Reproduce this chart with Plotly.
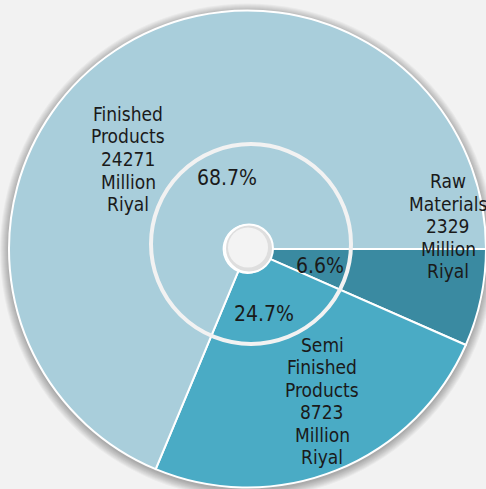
import plotly.graph_objects as go

# ---- data ----
categories = ["Raw Materials", "Semi Finished Products", "Finished Products"]
values = [2329, 8723, 24271]
unit = "Million Riyal"

# ---- style ----
W, H = 486, 489
colors = ["#3a8aa1", "#4aabc5", "#a9cedb"]
BG = "#f2f2f2"
FONT = "DejaVu Sans Condensed, DejaVu Sans, sans-serif"
TXT = "#1a1a1a"
LABEL_SIZE = 19
PCT_SIZE = 21
LINE_STEP = 22.5  # px between label lines

# pie geometry (pixels)
PIE_LEFT, PIE_TOP, PIE_BOTTOM = 9, 10, 488
CX, CY, R = 247.5, 249, 238.5
HOLE_CX, HOLE_CY, HOLE_R = 249, 248.5, 24
RING_CX, RING_CY, RING_R = 251, 244, 100

# label anchor positions (pixels) for category labels and percentages
label_pos = [(448, 226), (322, 401), (128, 159)]
pct_pos = [(319.5, 266), (264, 314), (227, 178)]


def px(x):
    return x / W


def py(y):
    return 1 - y / H


total = sum(values)

fig = go.Figure(
    go.Pie(
        labels=categories,
        values=values,
        sort=False,
        direction="clockwise",
        rotation=90,
        hole=0.1,
        marker=dict(colors=colors, line=dict(color="white", width=2)),
        textinfo="none",
        hoverinfo="label+value+percent",
        showlegend=False,
        domain=dict(x=[px(PIE_LEFT), 1], y=[py(PIE_BOTTOM), py(PIE_TOP)]),
    )
)

shapes = []
# soft drop shadow behind the pie
for i in range(1, 10):
    r = R + i
    shapes.append(dict(
        type="circle", xref="paper", yref="paper", layer="below",
        x0=px(CX - r), x1=px(CX + r), y0=py(CY + 2 + r), y1=py(CY + 2 - r),
        fillcolor="rgba(0,0,0,0.035)", line=dict(width=0),
    ))
# inner ring
shapes.append(dict(
    type="circle", xref="paper", yref="paper", layer="above",
    x0=px(RING_CX - RING_R), x1=px(RING_CX + RING_R),
    y0=py(RING_CY + RING_R), y1=py(RING_CY - RING_R),
    fillcolor="rgba(0,0,0,0)", line=dict(color="#f2f2f2", width=4),
))
# centre hole (with slight shading)
shapes.append(dict(
    type="circle", xref="paper", yref="paper", layer="above",
    x0=px(HOLE_CX - HOLE_R), x1=px(HOLE_CX + HOLE_R),
    y0=py(HOLE_CY + HOLE_R), y1=py(HOLE_CY - HOLE_R),
    fillcolor="#dedede", line=dict(color="white", width=2),
))
hr = HOLE_R - 4
shapes.append(dict(
    type="circle", xref="paper", yref="paper", layer="above",
    x0=px(HOLE_CX - 1 - hr), x1=px(HOLE_CX - 1 + hr),
    y0=py(HOLE_CY - 1 + hr), y1=py(HOLE_CY - 1 - hr),
    fillcolor="#f3f3f3", line=dict(width=0),
))

annotations = []
for cat, val, (lx, ly), (qx, qy) in zip(categories, values, label_pos, pct_pos):
    lines = cat.split(" ") + [str(val)] + unit.split(" ")
    n = len(lines)
    for i, line in enumerate(lines):
        yy = ly + (i - (n - 1) / 2) * LINE_STEP
        annotations.append(dict(
            x=px(lx), y=py(yy), xref="paper", yref="paper", text=line,
            showarrow=False, xanchor="center", yanchor="middle", align="center",
            font=dict(family=FONT, size=LABEL_SIZE, color=TXT),
        ))
    annotations.append(dict(
        x=px(qx), y=py(qy), xref="paper", yref="paper",
        text=f"{val / total * 100:.1f}%",
        showarrow=False, xanchor="center", yanchor="middle",
        font=dict(family=FONT, size=PCT_SIZE, color=TXT),
    ))

fig.update_layout(
    width=W, height=H,
    margin=dict(l=0, r=0, t=0, b=0),
    paper_bgcolor=BG, plot_bgcolor=BG,
    shapes=shapes, annotations=annotations,
)

fig.write_html(
    "out.html",
    config={"displayModeBar": False},
    post_script="document.body.style.margin='0';document.body.style.background='#f2f2f2';",
)
